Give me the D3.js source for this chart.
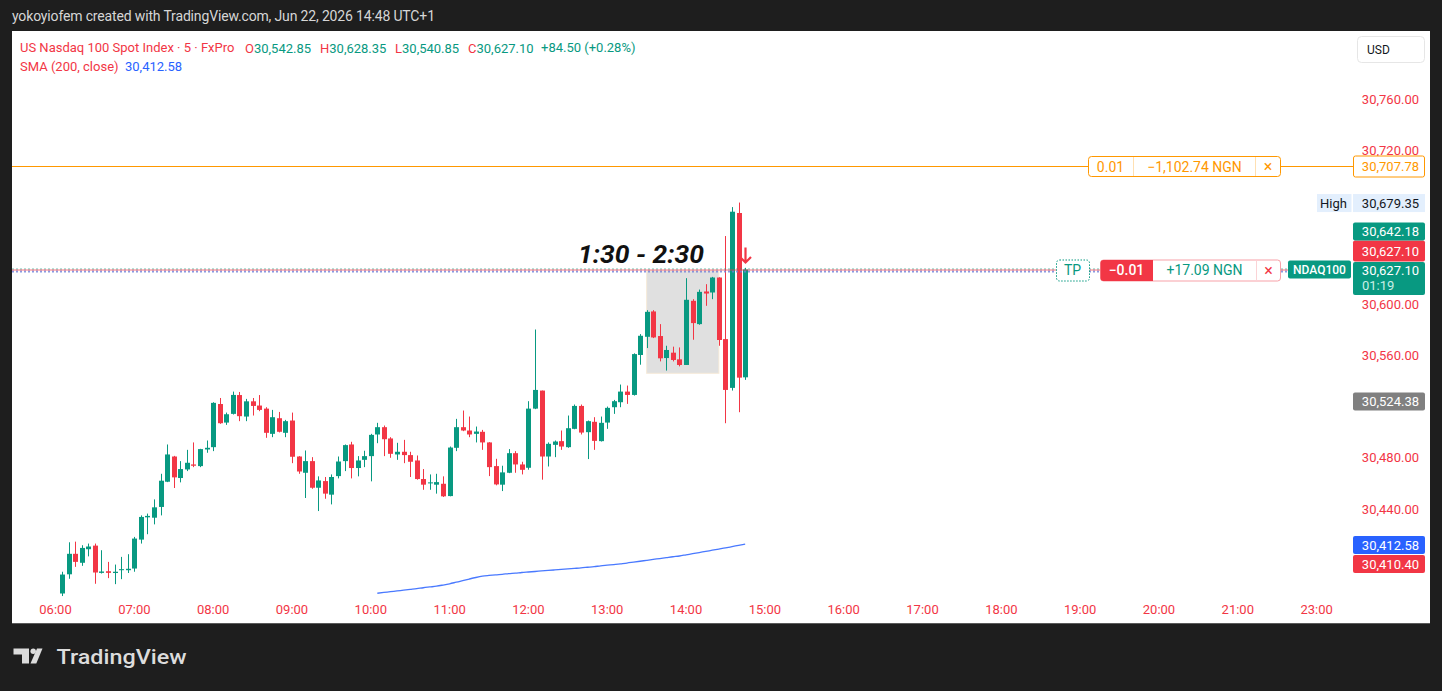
<!DOCTYPE html>
<html><head><meta charset="utf-8">
<script src="https://cdn.jsdelivr.net/npm/d3@7"></script>
<style>
html,body{margin:0;padding:0;background:#1e1e1e;overflow:hidden}
svg{display:block;font-family:Roboto,"Noto Sans",sans-serif}
</style></head><body>
<svg id="c" width="1442" height="691"></svg>
<script>
// ---------- DATA ----------
const times = ["06:05","06:10","06:15","06:20","06:25","06:30","06:35","06:40","06:45","06:50","06:55",
"07:00","07:05","07:10","07:15","07:20","07:25","07:30","07:35","07:40","07:45","07:50","07:55",
"08:00","08:05","08:10","08:15","08:20","08:25","08:30","08:35","08:40","08:45","08:50","08:55",
"09:00","09:05","09:10","09:15","09:20","09:25","09:30","09:35","09:40","09:45","09:50","09:55",
"10:00","10:05","10:10","10:15","10:20","10:25","10:30","10:35","10:40","10:45","10:50","10:55",
"11:00","11:05","11:10","11:15","11:20","11:25","11:30","11:35","11:40","11:45","11:50","11:55",
"12:00","12:05","12:10","12:15","12:20","12:25","12:30","12:35","12:40","12:45","12:50","12:55",
"13:00","13:05","13:10","13:15","13:20","13:25","13:30","13:35","13:40","13:45","13:50","13:55",
"14:00","14:05","14:10","14:15","14:20","14:25","14:30","14:35","14:40","14:45"];
const open = [30374.0,30389.0,30405.0,30398.0,30408.6,30411.4,30390.1,30391.4,30390.0,30392.2,30392.2,
30393.5,30416.1,30433.5,30433.2,30441.6,30461.3,30481.0,30464.2,30470.9,30474.8,30473.5,30486.5,
30488.3,30522.0,30507.5,30514.3,30529.0,30512.2,30524.1,30520.8,30518.4,30498.7,30510.9,30499.5,
30509.1,30481.0,30468.3,30477.4,30456.6,30461.8,30451.2,30465.7,30477.4,30490.4,30472.0,30478.4,
30481.3,30498.2,30503.9,30495.1,30482.6,30484.7,30482.1,30477.9,30463.4,30460.0,30459.0,30459.7,
30450.1,30487.8,30503.9,30501.3,30498.7,30500.3,30492.0,30473.5,30459.0,30468.3,30483.6,30474.8,
30472.2,30518.4,30532.5,30481.0,30490.1,30493.0,30488.3,30502.6,30520.5,30500.0,30508.1,30493.0,
30507.5,30519.5,30523.4,30531.7,30529.1,30560.3,30574.5,30594.3,30575.1,30557.9,30562.1,30556.9,
30552.5,30602.6,30584.4,30609.9,30609.1,30620.8,30572.7,30534.6,30671.2,30542.85];
const high = [30391.0,30414.0,30414.5,30411.7,30413.0,30413.0,30407.8,30398.7,30396.6,30402.6,30404.7,
30418.2,30435.0,30436.4,30447.5,30467.5,30490.4,30481.5,30477.4,30486.2,30492.0,30487.0,30493.5,
30523.4,30526.7,30515.3,30531.7,30531.4,30526.0,30526.7,30529.0,30519.5,30517.4,30515.8,30509.6,
30515.3,30481.3,30485.7,30480.5,30465.5,30465.0,30467.0,30481.0,30490.4,30492.5,30481.3,30485.5,
30498.7,30507.3,30505.2,30496.1,30491.7,30494.0,30484.7,30481.8,30471.2,30467.0,30467.5,30465.5,
30488.8,30510.4,30516.9,30512.2,30504.4,30501.8,30492.2,30479.2,30473.8,30486.8,30485.2,30476.9,
30524.2,30580.2,30532.5,30492.0,30493.5,30501.3,30513.0,30521.6,30521.6,30509.1,30511.7,30512.2,
30520.0,30525.2,30537.2,30536.4,30561.6,30576.6,30595.3,30595.3,30584.4,30567.5,30566.8,30566.2,
30620.3,30603.9,30611.4,30615.6,30621.3,30621.0,30653.2,30675.8,30679.35,30628.35];
const low = [30372.0,30385.5,30394.8,30395.6,30403.0,30381.6,30389.6,30386.0,30381.3,30385.2,30390.0,
30391.0,30413.0,30420.3,30428.0,30435.0,30461.0,30456.4,30460.8,30469.6,30472.7,30472.7,30483.9,
30485.2,30506.5,30505.7,30513.8,30508.6,30508.6,30513.0,30516.4,30495.6,30496.1,30499.8,30496.1,
30475.8,30467.5,30448.6,30455.8,30438.4,30448.0,30443.6,30463.9,30469.6,30463.9,30465.5,30472.7,
30461.6,30491.4,30481.3,30480.0,30478.4,30475.8,30465.0,30462.9,30455.0,30455.0,30452.0,30449.4,
30449.9,30485.2,30500.8,30496.1,30492.0,30486.2,30465.7,30458.5,30454.0,30468.0,30468.3,30467.0,
30470.7,30518.0,30462.9,30473.2,30480.5,30486.2,30487.8,30502.3,30498.2,30479.0,30486.2,30492.7,
30502.6,30514.3,30519.5,30522.1,30528.6,30552.7,30565.7,30573.5,30555.3,30548.1,30555.3,30551.4,
30552.5,30572.2,30583.9,30598.7,30603.9,30567.5,30507.0,30532.5,30515.6,30540.85];
const close = [30388.8,30405.0,30398.7,30409.6,30410.7,30390.4,30391.2,30390.1,30391.0,30393.0,30393.3,
30416.9,30433.8,30434.6,30441.3,30462.1,30482.6,30464.7,30471.2,30476.1,30473.8,30486.8,30487.8,
30522.9,30507.0,30514.0,30529.1,30512.5,30524.1,30520.5,30517.4,30499.5,30511.7,30500.3,30508.6,
30480.8,30469.3,30477.4,30456.6,30462.3,30452.0,30465.0,30477.1,30489.9,30472.0,30477.9,30481.3,
30497.9,30503.9,30494.5,30483.1,30484.7,30482.1,30476.9,30463.4,30459.0,30460.8,30461.0,30449.9,
30488.0,30503.9,30501.3,30498.2,30500.5,30492.0,30472.7,30459.2,30468.6,30483.6,30474.8,30470.6,
30518.4,30533.0,30481.0,30490.9,30492.7,30488.8,30503.1,30520.5,30499.7,30508.6,30493.2,30507.3,
30519.0,30524.2,30531.7,30529.1,30561.0,30575.3,30594.0,30574.0,30557.7,30564.2,30556.4,30552.5,
30603.4,30585.2,30609.6,30608.3,30620.8,30572.0,30533.0,30672.2,30542.6,30627.10];
const smaTimes = times.slice(48); // SMA visible from 10:05
const smaValues = [30374.2,30374.8,30375.4,30376.0,30376.6,30377.2,30377.8,30378.5,30379.1,30379.7,
30380.6,30381.6,30382.8,30384.0,30385.3,30386.5,30387.5,30388.1,30388.6,30389.0,30389.5,30389.9,
30390.4,30390.8,30391.2,30391.6,30392.0,30392.4,30392.8,30393.2,30393.6,30394.0,30394.5,30395.0,
30395.6,30396.1,30396.6,30397.2,30397.8,30398.5,30399.2,30399.9,30400.6,30401.3,30402.0,30402.7,
30403.3,30404.2,30405.1,30406.0,30406.9,30407.8,30408.7,30409.6,30410.6,30411.6,30412.58];
const priceTicks = [30440, 30480, 30560, 30600, 30720, 30760];
const timeTicks = ["06:00","07:00","08:00","09:00","10:00","11:00","12:00","13:00","14:00","15:00","16:00","17:00","18:00","19:00","20:00","21:00","23:00"];
const sessionBox = {start:"13:30", end:"14:25", top:30626, bottom:30546, label:"1:30 - 2:30"};
const currentPrice = 30627.10, orderPrice = 30707.78, highPrice = 30679.35;
const bidPrice = 30642.18, askPrice = 30627.10, grayPrice = 30524.38, smaLast = 30412.58, lowLabel = 30410.40;
const countdown = "01:19";
const fmt = d3.format(",.2f");

// ---------- SCALES ----------
function slot(t){const [h,m]=t.split(":").map(Number);let s=(h*60+m-360)/5; if(h>=23) s-=12; return s;}
const x = d3.scaleLinear().domain([0,192]).range([55.5,1316.6]);
const y = d3.scaleLinear().domain([30440,30760]).range([509,99.3]);
const GREEN="#089981", RED="#f23645", ORANGE="#ff9800", BLUE="#2962ff";

const svg = d3.select("#c");
svg.append("rect").attr("x",0).attr("y",0).attr("width",1442).attr("height",691).attr("fill","#1e1e1e");
svg.append("rect").attr("x",12).attr("y",31).attr("width",1418).attr("height",592).attr("fill","#fff");
svg.append("line").attr("x1",12).attr("x2",1430).attr("y1",623.5).attr("y2",623.5).attr("stroke","#5a5a5a");

// title
svg.append("text").attr("x",12).attr("y",21).attr("fill","#d6d6d6").attr("font-size",14).attr("textLength",423)
  .text("yokoyiofem created with TradingView.com, Jun 22, 2026 14:48 UTC+1");

svg.append("clipPath").attr("id","pane").append("rect").attr("x",12).attr("y",31).attr("width",1340).attr("height",566);
const pane = svg.append("g").attr("clip-path","url(#pane)");

// session box
const bx0 = x(slot(sessionBox.start)), bx1 = x(slot(sessionBox.end));
pane.append("rect").attr("x",bx0).attr("y",y(sessionBox.top)).attr("width",bx1-bx0).attr("height",y(sessionBox.bottom)-y(sessionBox.top))
  .attr("fill","#e0e0e0").attr("stroke","#f6ead8").attr("stroke-width",1);

// SMA
pane.append("path").datum(smaValues).attr("fill","none").attr("stroke",BLUE).attr("stroke-width",1.3).attr("stroke-opacity",0.85)
  .attr("d",d3.line().x((d,i)=>x(slot(smaTimes[i]))).y(d=>y(d)).curve(d3.curveMonotoneX));

// candles
const bars = times.map((t,i)=>({t,o:open[i],h:high[i],l:low[i],c:close[i]}));
const cg = pane.append("g");
cg.selectAll(".w").data(bars).join("line")
  .attr("x1",d=>Math.round(x(slot(d.t)))+0.5).attr("x2",d=>Math.round(x(slot(d.t)))+0.5)
  .attr("y1",d=>y(d.h)).attr("y2",d=>y(d.l)).attr("stroke",d=>d.c>=d.o?GREEN:RED).attr("stroke-width",1);
cg.selectAll(".b").data(bars).join("rect")
  .attr("x",d=>Math.round(x(slot(d.t)))-2).attr("width",5)
  .attr("y",d=>y(Math.max(d.o,d.c))).attr("height",d=>Math.max(1,Math.abs(y(d.o)-y(d.c))))
  .attr("fill",d=>d.c>=d.o?GREEN:RED);

// session label
pane.append("text").attr("x",578).attr("y",y(sessionBox.top)-8).attr("font-size",25).attr("font-weight",700)
  .attr("font-style","italic").attr("fill","#111").attr("textLength",126).attr("lengthAdjust","spacingAndGlyphs").text(sessionBox.label);

// arrow marker on last bar
const lastX = Math.round(x(slot(times[times.length-1])))+0.5, ay = y(currentPrice)-7;
pane.append("path").attr("d",`M${lastX},${ay-15} L${lastX},${ay} M${lastX-5.5},${ay-5.5} L${lastX},${ay} L${lastX+5.5},${ay-5.5}`)
  .attr("stroke",RED).attr("stroke-width",2.2).attr("fill","none");

// horizontal lines
const oy = Math.round(y(orderPrice))+0.5;
svg.append("line").attr("x1",12).attr("x2",1088).attr("y1",oy).attr("y2",oy).attr("stroke",ORANGE).attr("stroke-width",1);
svg.append("line").attr("x1",1281).attr("x2",1353).attr("y1",oy).attr("y2",oy).attr("stroke",ORANGE).attr("stroke-width",1);
const cy = Math.round(y(currentPrice))+1.5;
[[12,1056],[1089,1100],[1281,1288]].forEach(([a,b])=>{
  svg.append("line").attr("x1",a).attr("x2",b).attr("y1",cy-1.5).attr("y2",cy-1.5).attr("stroke",GREEN).attr("stroke-opacity",0.6).attr("stroke-dasharray","2,2");
  svg.append("line").attr("x1",a).attr("x2",b).attr("y1",cy+1).attr("y2",cy+1).attr("stroke","#6f7fd8").attr("stroke-width",2).attr("stroke-opacity",0.8).attr("stroke-dasharray","2,2");
  svg.append("line").attr("x1",a).attr("x2",b).attr("y1",cy-0.5).attr("y2",cy-0.5).attr("stroke",RED).attr("stroke-opacity",0.7);
});

// order boxes
function box(x0,y0,w,h,fill,stroke,dash){const r=svg.append("rect").attr("x",x0+0.5).attr("y",y0+0.5).attr("width",w).attr("height",h).attr("rx",3)
  .attr("fill",fill).attr("stroke",stroke||"none"); if(dash) r.attr("stroke-dasharray",dash); return r;}
function txt(xx,yy,s,col,anchor,size,weight){return svg.append("text").attr("x",xx).attr("y",yy).attr("fill",col).attr("font-size",size||13)
  .attr("text-anchor",anchor||"middle").attr("dominant-baseline","central").attr("font-weight",weight||400).text(s);}
const obT = oy-10.5;
box(1088,obT,192,20,"#fff",ORANGE);
svg.append("line").attr("x1",1133.5).attr("x2",1133.5).attr("y1",obT+1).attr("y2",obT+20).attr("stroke","#ffe0b2");
svg.append("line").attr("x1",1255.5).attr("x2",1255.5).attr("y1",obT+1).attr("y2",obT+20).attr("stroke","#ffe0b2");
txt(1110.5,oy,"0.01",ORANGE,"middle",14); txt(1194.5,oy,"\u22121,102.74 NGN",ORANGE,"middle",14); txt(1268,oy,"\u00d7",ORANGE,"middle",16);
const pT = cy-11;
box(1056,pT,33,21,"#fff",GREEN,"1.5,1.5");
txt(1072.5,cy-0.5,"TP",GREEN,"middle",14);
box(1100,pT,180,21,"#fff","#f7a1a8");
svg.append("path").attr("d",`M1103.5,${pT+0.5} H1153 V${pT+21.5} H1103.5 Q1100.5,${pT+21.5} 1100.5,${pT+18.5} V${pT+3.5} Q1100.5,${pT+0.5} 1103.5,${pT+0.5} Z`).attr("fill",RED);
svg.append("line").attr("x1",1256.5).attr("x2",1256.5).attr("y1",pT+1).attr("y2",pT+21).attr("stroke","#fbd3d6");
txt(1126.5,cy-0.5,"\u22120.01","#fff","middle",14,500); txt(1204.5,cy-0.5,"+17.09 NGN",GREEN,"middle",14); txt(1268.5,cy-0.5,"\u00d7",RED,"middle",16);
svg.append("rect").attr("x",1288).attr("y",pT+1).attr("width",63).attr("height",18).attr("rx",2).attr("fill",GREEN);
txt(1319.5,pT+10,"NDAQ100","#fff","middle",12,500);

// ---------- RIGHT AXIS ----------
const AX=1353, AW=72, TX=1419;
svg.selectAll(".pt").data(priceTicks).join("text").attr("x",TX).attr("y",d=>y(d)).attr("text-anchor","end").attr("dominant-baseline","central")
  .attr("font-size",13).attr("fill",RED).text(d=>fmt(d));
svg.append("rect").attr("x",1357.5).attr("y",36.5).attr("width",67).attr("height",26).attr("rx",4).attr("fill","#fff").attr("stroke","#e6e6e6");
txt(1367,50,"USD","#131722","start",12);
svg.append("rect").attr("x",AX+0.5).attr("y",oy-10.5).attr("width",AW-1).attr("height",21).attr("rx",2).attr("fill","#fff").attr("stroke",ORANGE);
txt(TX,oy,fmt(orderPrice),ORANGE,"end");
const hy = y(highPrice);
svg.append("rect").attr("x",1317).attr("y",hy-8.5).attr("width",34.5).attr("height",18).attr("fill","#e3effd");
svg.append("rect").attr("x",AX).attr("y",hy-8.5).attr("width",AW).attr("height",18).attr("fill","#e3effd");
txt(1320,hy+0.5,"High","#131722","start"); txt(TX,hy+0.5,fmt(highPrice),"#131722","end");
const curTop = cy-8.5;
svg.append("rect").attr("x",AX).attr("y",curTop).attr("width",AW).attr("height",33).attr("rx",2).attr("fill",GREEN);
txt(TX,curTop+8.5,fmt(currentPrice),"#fff","end"); txt(1362,curTop+23,countdown,"#c9efe6","start");
svg.append("rect").attr("x",AX).attr("y",curTop-21.5).attr("width",AW).attr("height",21).attr("rx",2).attr("fill",RED);
txt(TX,curTop-11,fmt(askPrice),"#fff","end");
svg.append("rect").attr("x",AX).attr("y",curTop-39.5).attr("width",AW).attr("height",18).attr("rx",2).attr("fill",GREEN);
txt(TX,curTop-30.5,fmt(bidPrice),"#fff","end");
const gy = y(grayPrice);
svg.append("rect").attr("x",AX).attr("y",gy-8.5).attr("width",AW).attr("height",18).attr("rx",2).attr("fill","#808080");
txt(TX,gy+0.5,fmt(grayPrice),"#fff","end");
const sy = y(smaLast);
svg.append("rect").attr("x",AX).attr("y",sy-8).attr("width",AW).attr("height",18).attr("rx",2).attr("fill",BLUE);
txt(TX,sy+1,fmt(smaLast),"#fff","end");
svg.append("rect").attr("x",AX).attr("y",sy+11).attr("width",AW).attr("height",18).attr("rx",2).attr("fill",RED);
txt(TX,sy+20,fmt(lowLabel),"#fff","end");

// ---------- TIME AXIS ----------
svg.selectAll(".tt").data(timeTicks).join("text").attr("x",d=>x(slot(d))).attr("y",609.5).attr("text-anchor","middle")
  .attr("dominant-baseline","central").attr("font-size",13).attr("fill",RED).text(d=>d);

// ---------- LEGEND ----------
const l1 = 47.5, l2 = 66.5;
function seg(xx,yy,s,col){return svg.append("text").attr("x",xx).attr("y",yy).attr("dominant-baseline","central").attr("font-size",13).attr("fill",col).text(s);}
seg(20,l1,"US Nasdaq 100 Spot Index \u00b7 5 \u00b7 FxPro",RED);
const ohlc = [["O",open[open.length-1],245],["H",high[high.length-1],320],["L",low[low.length-1],395],["C",close[close.length-1],468]];
ohlc.forEach(([k,v,xx])=>{const t=svg.append("text").attr("x",xx).attr("y",l1).attr("dominant-baseline","central").attr("font-size",13);
  t.append("tspan").attr("fill",RED).text(k); t.append("tspan").attr("fill",GREEN).text(fmt(v));});
const chg = close[close.length-1]-close[close.length-2];
seg(541,l1,"+"+chg.toFixed(2)+" (+"+(chg/close[close.length-2]*100).toFixed(2)+"%)",GREEN);
seg(20,l2,"SMA (200, close)",RED);
seg(125,l2,fmt(smaLast),BLUE);

// ---------- LOGO ----------
const lg = svg.append("g").attr("fill","#dcdcdc");
lg.append("path").attr("d","M13.5,648.5 H29 V663.5 H22 V654.5 H13.5 Z");
lg.append("circle").attr("cx",33.2).attr("cy",651.2).attr("r",2.7);
lg.append("path").attr("d","M37,648.5 H42.5 L36.3,663.5 H30.5 Z");
svg.append("text").attr("x",56.5).attr("y",663.5).attr("font-size",21).attr("font-weight",500).attr("fill","#dcdcdc")
  .attr("textLength",130).attr("lengthAdjust","spacingAndGlyphs").text("TradingView");
</script>
</body></html>
